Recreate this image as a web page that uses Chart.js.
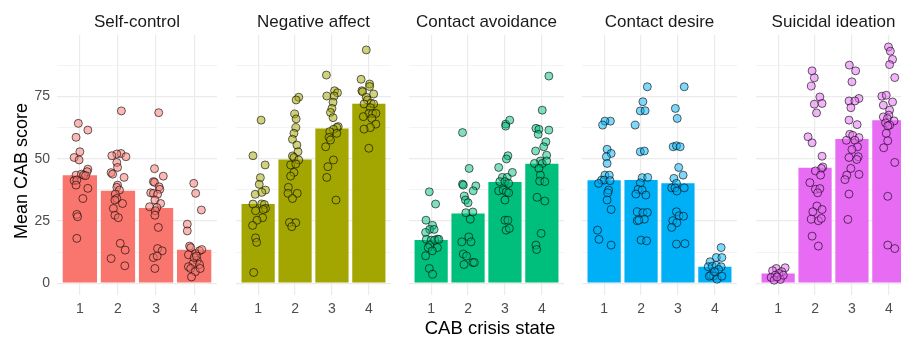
<!DOCTYPE html>
<html>
<head>
<meta charset="utf-8">
<script src="https://cdn.jsdelivr.net/npm/chart.js@4.4.1/dist/chart.umd.min.js"></script>
<style>
  html, body { margin: 0; padding: 0; background: #fff; width: 901px; height: 338px; overflow: hidden; }
  .panel { position: absolute; top: 0; height: 338px; }
  .axisTitle { position: absolute; line-height: 22px; height: 22px; text-align: center; white-space: nowrap;
               font-family: 'Liberation Sans', Arial, sans-serif; color: #000; }
  #xTitle { left: 0; top: 317px; width: 980px; font-size: 18.5px; }
  #yTitle { left: -79.5px; top: 159.5px; width: 200px; font-size: 18px; transform: rotate(-90deg); }
</style>
</head>
<body>
<div class="panel" style="left:0;width:222px"><canvas id="c0"></canvas></div>
<div class="panel" style="left:231px;width:165px"><canvas id="c1"></canvas></div>
<div class="panel" style="left:404px;width:165px"><canvas id="c2"></canvas></div>
<div class="panel" style="left:577px;width:165px"><canvas id="c3"></canvas></div>
<div class="panel" style="left:751px;width:165px"><canvas id="c4"></canvas></div>
<div id="xTitle" class="axisTitle">CAB crisis state</div>
<div id="yTitle" class="axisTitle">Mean CAB score</div>
<script>
const FONT = "'Liberation Sans', Arial, sans-serif";
const GRID = '#EBEBEB';

const facets = ['Self-control', 'Negative affect', 'Contact avoidance', 'Contact desire', 'Suicidal ideation'];
const states = [1, 2, 3, 4];
const colors = ['#F8766D', '#A3A500', '#00BF7D', '#00B0F6', '#E76BF3'];
const yLabels = [0, 25, 50, 75];
const yMinor = [12.5, 37.5, 62.5, 87.5];

// bar heights (mean CAB score per crisis state)
const meanSelfControl = [43.4, 37.1, 30.2, 13.4];
const meanNegAffect = [31.8, 49.7, 62.1, 72.1];
const meanAvoidance = [17.3, 28.0, 40.6, 48.0];
const meanDesire = [41.3, 41.4, 40.1, 6.6];
const meanSuicidal = [3.9, 46.4, 57.9, 65.5];

// individual scores, [jittered state, score]
const ptsSelfControl = [
  [0.96,64.2],[1.21,61.5],[0.90,58.6],[1.00,52.8],[0.85,50.5],[0.98,49.5],[1.21,45.8],[1.19,44.8],[0.90,43.4],[1.04,43.8],
  [1.10,43.4],[1.15,43.2],[0.85,41.2],[0.92,41.4],[0.90,39.4],[1.21,38.1],[1.08,34.0],[0.92,27.6],[0.94,26.7],[0.92,18.0],
  [2.09,69.2],[2.08,52.1],[1.97,51.9],[1.84,51.2],[2.21,50.8],[1.97,48.5],[1.99,46.5],[1.82,44.4],[1.86,43.8],[2.16,42.5],
  [1.99,39.4],[1.97,38.5],[2.04,37.4],[1.93,35.8],[1.97,34.0],[1.92,33.4],[2.12,32.0],[1.88,30.0],[1.92,27.3],[2.01,26.3],
  [2.06,16.0],[2.19,13.3],[1.82,9.9],[2.18,7.0],
  [3.07,68.5],[2.96,46.0],[3.19,43.0],[2.93,40.8],[2.96,40.5],[3.08,38.7],[2.86,36.3],[2.93,36.1],[3.10,37.7],[3.04,35.7],
  [2.97,33.4],[3.12,32.0],[2.83,30.7],[3.02,30.4],[2.98,29.1],[2.97,27.3],[3.06,22.4],[3.04,13.9],[3.16,13.0],[2.93,10.3],
  [3.03,10.9],[2.97,5.9],
  [3.99,40.1],[4.04,36.1],[4.19,29.4],[3.82,23.7],[3.82,21.0],[3.88,14.9],[3.91,14.3],[4.04,11.9],[3.85,11.4],[4.14,13.0],
  [4.20,13.5],[4.08,9.2],[3.97,7.9],[4.14,7.5],[3.85,6.6],[3.91,5.9],[4.03,4.6],[4.16,5.9],[3.93,2.5],[4.00,10.3],[4.06,10.9]
];
const ptsNegAffect = [
  [1.08,65.5],[0.86,51.2],[1.19,47.5],[1.06,42.4],[1.03,39.7],[1.20,37.4],[1.10,36.5],[0.92,35.7],[0.86,31.8],[1.10,31.8],
  [1.17,31.6],[1.20,30.0],[1.14,29.6],[0.93,29.1],[1.12,26.3],[0.97,25.3],[0.85,23.2],[0.93,18.2],[0.96,16.4],[0.88,4.3],
  [2.10,74.7],[2.03,73.6],[1.99,68.0],[2.03,66.0],[2.02,62.5],[1.97,60.2],[1.93,57.8],[2.05,55.5],[2.08,52.8],[1.93,51.1],
  [1.97,50.5],[2.10,49.5],[1.88,47.5],[2.02,47.9],[1.97,44.5],[1.88,43.0],[1.82,38.5],[1.81,36.1],[2.06,36.1],[1.93,34.0],
  [1.85,24.4],[2.02,24.3],[1.91,22.7],
  [2.85,83.6],[3.07,77.3],[3.15,76.5],[2.86,75.2],[3.06,75.2],[3.03,72.7],[3.00,70.2],[2.96,68.6],[3.03,66.5],[3.17,62.9],
  [3.13,62.5],[3.04,61.8],[2.94,60.9],[3.13,60.2],[2.92,58.6],[2.96,57.5],[2.83,54.8],[2.89,46.8],[3.04,49.5],[2.86,42.5],
  [3.11,33.4],
  [3.93,93.7],[3.79,81.9],[4.02,80.0],[4.02,79.0],[3.81,77.3],[3.83,76.9],[4.13,76.0],[3.93,74.7],[3.96,73.6],[4.06,72.3],
  [3.87,72.0],[4.13,72.0],[4.04,70.5],[4.00,68.2],[4.10,68.2],[4.19,68.2],[3.85,66.9],[4.08,66.2],[4.19,63.9],[4.04,62.5],
  [3.87,61.9],[4.00,54.2]
];
const ptsAvoidance = [
  [0.95,36.7],[1.12,31.8],[0.86,25.3],[1.04,23.2],[0.96,21.6],[1.08,21.6],[0.85,20.4],[1.17,17.7],[0.87,17.6],[1.00,17.3],
  [1.10,17.3],[1.21,17.6],[0.96,15.3],[0.92,14.3],[1.17,14.3],[1.03,13.0],[0.85,11.0],[0.95,5.9],[1.04,3.6],
  [1.85,60.5],[2.03,46.1],[1.85,39.8],[1.87,39.4],[2.21,39.1],[2.14,37.1],[1.90,35.0],[1.93,33.4],[2.00,32.3],[1.94,28.3],
  [2.13,28.6],[2.06,25.7],[2.02,18.6],[1.83,16.6],[2.08,16.6],[1.87,11.7],[1.96,10.9],[2.13,8.3],[2.17,8.3],[1.89,7.5],
  [3.02,63.9],[3.13,65.5],[3.02,63.1],[3.08,51.2],[3.04,49.9],[2.83,46.5],[2.93,42.5],[3.06,42.5],[3.20,44.5],[2.86,40.8],
  [3.00,40.8],[3.10,40.1],[2.83,37.1],[2.95,37.4],[3.04,36.7],[3.10,36.3],[3.00,33.4],[3.00,25.3],[3.08,25.3],[3.03,21.3],
  [3.12,22.0],
  [4.19,83.2],[4.01,69.5],[3.84,62.2],[3.92,61.8],[4.19,61.5],[3.90,59.8],[4.11,56.8],[4.05,54.8],[3.83,53.1],[4.13,51.4],
  [3.96,49.1],[4.01,48.1],[3.80,48.1],[4.13,49.1],[3.92,46.1],[3.96,43.4],[3.94,41.0],[4.08,40.8],[3.87,34.5],[4.08,33.0],
  [3.98,20.0],[3.84,15.3],[3.86,13.5]
];
const ptsDesire = [
  [1.17,65.1],[1.02,65.1],[0.96,63.5],[1.08,53.8],[1.19,52.1],[1.06,50.8],[1.08,48.1],[1.02,43.4],[1.14,43.4],[0.93,41.4],
  [1.00,41.4],[1.16,41.2],[0.85,40.1],[1.12,37.4],[1.10,36.3],[1.08,33.4],[1.19,29.6],[0.82,21.3],[0.86,17.6],[1.19,15.3],
  [2.17,78.9],[2.05,72.9],[1.98,69.2],[2.11,69.3],[1.84,63.5],[1.98,52.8],[2.09,53.1],[2.03,42.4],[2.18,42.5],[1.98,40.3],
  [1.92,37.7],[1.86,35.8],[2.03,37.4],[2.13,35.4],[1.90,28.7],[2.05,28.3],[2.17,28.4],[1.90,25.1],[2.09,25.7],[2.00,17.3],
  [2.15,17.0],[1.94,25.3],
  [3.17,78.9],[2.93,70.2],[2.98,66.2],[2.87,54.8],[2.96,55.2],[3.06,54.8],[3.02,46.5],[3.14,43.4],[2.89,42.1],[2.96,40.1],
  [2.83,38.3],[2.92,38.3],[3.17,38.3],[2.97,37.0],[2.96,28.7],[3.03,27.1],[3.15,26.9],[2.86,25.1],[2.97,24.3],[2.83,22.4],
  [2.96,15.7],[3.19,15.9],
  [4.17,14.3],[4.04,10.3],[4.19,10.3],[3.87,8.6],[3.82,6.6],[3.93,6.8],[4.04,7.2],[4.17,6.6],[4.10,5.5],[3.89,3.2],
  [3.96,2.8],[4.06,1.6],[4.19,2.8],[3.85,2.8],[3.99,4.6]
];
const ptsSuicidal = [
  [1.19,6.2],[0.95,5.9],[0.85,5.0],[1.10,4.6],[1.02,3.9],[0.92,3.2],[0.81,2.3],[1.06,1.5],[0.89,1.2],[1.14,3.2],[0.97,2.5],
  [1.92,85.3],[1.98,82.5],[1.90,79.2],[2.13,74.8],[1.98,71.9],[2.19,72.2],[2.04,68.4],[1.81,58.8],[1.92,56.4],[2.19,51.0],
  [2.21,46.7],[2.17,46.1],[2.01,45.1],[2.15,43.4],[1.86,40.4],[2.01,37.7],[2.13,38.0],[2.07,36.3],[2.05,31.0],[1.94,28.7],
  [2.19,29.6],[1.90,25.7],[2.09,25.1],[2.17,26.0],[1.92,18.9],[2.09,14.9],
  [2.93,87.6],[3.10,85.3],[3.00,80.9],[2.92,73.2],[3.19,74.2],[3.08,73.2],[2.97,70.5],[2.92,65.5],[3.14,63.7],[2.94,59.8],
  [3.02,59.4],[3.19,58.5],[2.85,57.4],[3.08,57.4],[3.15,54.8],[3.00,53.7],[3.17,50.8],[2.92,50.5],[3.13,49.7],[2.97,46.1],
  [2.86,43.4],[3.19,43.7],[2.81,41.6],[2.92,35.8],[2.89,25.6],
  [3.99,94.9],[4.04,93.2],[4.10,89.9],[4.02,87.8],[4.16,82.6],[3.81,75.1],[3.93,75.5],[4.10,72.8],[3.85,71.5],[4.02,69.5],
  [4.00,67.5],[3.85,66.8],[3.96,66.1],[4.14,65.2],[3.91,64.4],[4.02,63.5],[3.97,63.2],[3.93,60.2],[3.97,57.2],[3.86,54.4],
  [4.16,48.5],[3.97,34.9],[3.97,15.3],[4.16,13.9]
];

const means = [meanSelfControl, meanNegAffect, meanAvoidance, meanDesire, meanSuicidal];
const points = [ptsSelfControl, ptsNegAffect, ptsAvoidance, ptsDesire, ptsSuicidal];

function hexA(hex, a) {
  const n = parseInt(hex.slice(1), 16);
  return 'rgba(' + (n >> 16) + ',' + ((n >> 8) & 255) + ',' + (n & 255) + ',' + a + ')';
}

function makeChart(i) {
  const first = i === 0;
  return new Chart(document.getElementById('c' + i), {
    type: 'bar',
    data: {
      datasets: [
        { type: 'scatter', order: 0, data: points[i].map(p => ({ x: p[0], y: p[1] })),
          backgroundColor: hexA(colors[i], 0.5), borderColor: 'rgba(0,0,0,0.6)', borderWidth: 1,
          pointRadius: 4, pointHoverRadius: 4 },
        { type: 'bar', order: 1, data: states.map((s, j) => ({ x: s, y: means[i][j] })),
          backgroundColor: colors[i], barPercentage: 0.9, categoryPercentage: 1 }
      ]
    },
    options: {
      responsive: true, maintainAspectRatio: false, animation: false,
      layout: { padding: 0 },
      plugins: {
        legend: { display: false }, tooltip: { enabled: false },
        title: { display: true, text: facets[i], fullSize: false, color: '#1A1A1A',
                 font: { size: 17, family: FONT, weight: 'normal' }, padding: { top: 12.5, bottom: 2.1 } }
      },
      scales: {
        x: {
          type: 'linear', min: 0.4, max: 4.6, offset: false,
          afterBuildTicks: s => { s.ticks = states.map(v => ({ value: v })); },
          afterFit: s => { s.height = 43; },
          grid: { color: GRID, lineWidth: 1.2, drawTicks: false, offset: false },
          border: { display: false },
          ticks: { color: '#4D4D4D', font: { size: 14, family: FONT }, padding: 6, autoSkip: false, maxRotation: 0,
                   callback: v => String(v) }
        },
        y: {
          type: 'linear', min: -4.75, max: 99.7,
          afterBuildTicks: s => { s.ticks = yLabels.concat(yMinor).sort((a, b) => a - b).map(v => ({ value: v })); },
          afterFit: s => { s.width = first ? 57 : 0; },
          grid: { color: GRID, drawTicks: false, lineWidth: c => yLabels.includes(c.tick.value) ? 1.2 : 0.6 },
          border: { display: false },
          ticks: { display: first, color: '#4D4D4D', font: { size: 14, family: FONT }, padding: 7, autoSkip: false,
                   callback: v => yLabels.includes(v) ? String(v) : '' }
        }
      }
    }
  });
}

facets.forEach((f, i) => makeChart(i));
</script>
</body>
</html>
